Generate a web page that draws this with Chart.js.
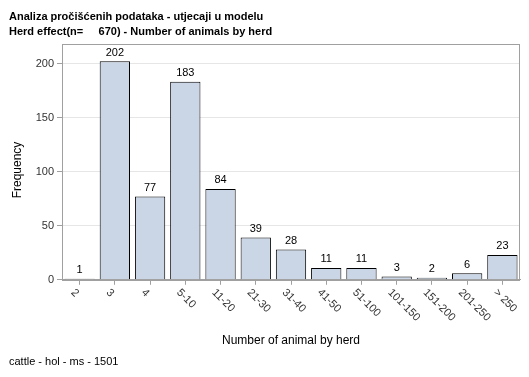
<!DOCTYPE html>
<html lang="hr">
<head>
    <meta charset="UTF-8">
    <title>Herd effect - Number of animals by herd</title>
    <script src="https://cdn.jsdelivr.net/npm/chart.js"></script>
    <style>
        body { margin: 0; background: #fff; }
        canvas { display: block; }
    </style>
</head>
<body>
    <canvas id="herdChart" width="529" height="377"></canvas>
    <script>
        // data
        const herdSizes = ['2', '3', '4', '5-10', '11-20', '21-30', '31-40', '41-50', '51-100', '101-150', '151-200', '201-250', '> 250'];
        const frequency = [1, 202, 77, 183, 84, 39, 28, 11, 11, 3, 2, 6, 23];
        const yTicks = [0, 50, 100, 150, 200];
        const titleLines = ['Analiza pročišćenih podataka - utjecaji u modelu', 'Herd effect(n=     670) - Number of animals by herd'];
        const footnote = 'cattle - hol - ms - 1501';

        const FONT = '"Liberation Sans", Arial, sans-serif';
        Chart.defaults.font.family = FONT;
        Chart.defaults.color = '#333';

        // frame round the plot area (top and right sides)
        const framePlugin = {
            id: 'frame',
            afterDraw(chart) {
                const {ctx, chartArea: a} = chart;
                ctx.save();
                ctx.strokeStyle = '#a0a0a0';
                ctx.lineWidth = 1;
                ctx.strokeRect(Math.round(a.left) + 0.5, Math.round(a.top) + 0.5, Math.round(a.right - a.left) - 1, Math.round(a.bottom - a.top));
                ctx.restore();
            }
        };

        // counts above each bar
        const barLabels = {
            id: 'barLabels',
            afterDatasetsDraw(chart) {
                const {ctx} = chart;
                const meta = chart.getDatasetMeta(0);
                ctx.save();
                ctx.font = '11px ' + FONT;
                ctx.fillStyle = '#000';
                ctx.textAlign = 'center';
                ctx.textBaseline = 'bottom';
                meta.data.forEach((bar, i) => {
                    ctx.fillText(String(frequency[i]), bar.x, bar.y - 3);
                });
                ctx.restore();
            }
        };

        // x tick labels turned 45 degrees clockwise, starting at the tick
        const slantedTicks = {
            id: 'slantedTicks',
            afterDraw(chart) {
                const {ctx} = chart;
                const xs = chart.scales.x;
                ctx.save();
                ctx.font = '11px ' + FONT;
                ctx.fillStyle = '#333';
                ctx.textAlign = 'left';
                ctx.textBaseline = 'middle';
                herdSizes.forEach((lab, i) => {
                    const x = xs.getPixelForTick(i);
                    ctx.save();
                    ctx.translate(x - 7, xs.top + 11);
                    ctx.rotate(Math.PI / 4);
                    ctx.fillText(lab, 0, 0);
                    ctx.restore();
                });
                ctx.restore();
            }
        };

        // y axis title
        const yTitle = {
            id: 'yTitle',
            afterDraw(chart) {
                const {ctx} = chart;
                ctx.save();
                ctx.font = '12px ' + FONT;
                ctx.fillStyle = '#000';
                ctx.textAlign = 'center';
                ctx.textBaseline = 'middle';
                ctx.translate(17.5, 170);
                ctx.rotate(-Math.PI / 2);
                ctx.fillText('Frequency', 0, 0);
                ctx.restore();
            }
        };

        const ctx = document.getElementById('herdChart').getContext('2d');
        const herdChart = new Chart(ctx, {
            type: 'bar',
            data: {
                labels: herdSizes,
                datasets: [{
                    data: frequency,
                    backgroundColor: '#cad5e5',
                    borderColor: '#000',
                    borderWidth: 1,
                    barPercentage: 0.86,
                    categoryPercentage: 1.0
                }]
            },
            options: {
                responsive: false,
                devicePixelRatio: 1,
                animation: false,
                layout: { padding: { left: 9, right: 9, top: 0, bottom: 0 } },
                plugins: {
                    legend: { display: false },
                    tooltip: { enabled: false },
                    title: {
                        display: true,
                        text: titleLines,
                        align: 'start',
                        color: '#000',
                        font: { size: 11, weight: 'bold', lineHeight: 15 / 11 },
                        padding: { top: 9, bottom: 5 }
                    },
                    subtitle: {
                        display: true,
                        text: footnote,
                        position: 'bottom',
                        align: 'start',
                        color: '#000',
                        font: { size: 11, lineHeight: 1.2 },
                        padding: { top: 6, bottom: 8 }
                    }
                },
                scales: {
                    x: {
                        offset: true,
                        ticks: { display: false },
                        grid: {
                            display: true,
                            offset: false,
                            drawOnChartArea: false,
                            drawTicks: true,
                            tickLength: 5,
                            tickColor: '#a0a0a0'
                        },
                        border: { display: true, color: '#a0a0a0' },
                        title: {
                            display: true,
                            text: 'Number of animal by herd',
                            color: '#000',
                            font: { size: 12 },
                            padding: { top: 0, bottom: 2 }
                        },
                        afterFit(scale) { scale.height = 70; }
                    },
                    y: {
                        min: 0,
                        max: 218,
                        afterBuildTicks(scale) {
                            scale.ticks = yTicks.map(v => ({ value: v }));
                        },
                        ticks: { font: { size: 11 }, color: '#333', padding: 3 },
                        grid: {
                            color: '#e6e6e6',
                            tickColor: '#a0a0a0',
                            tickLength: 5,
                            drawTicks: true
                        },
                        border: { display: true, color: '#a0a0a0' },
                        afterFit(scale) { scale.width = 53; }
                    }
                }
            },
            plugins: [framePlugin, barLabels, slantedTicks, yTitle]
        });
    </script>
</body>
</html>
